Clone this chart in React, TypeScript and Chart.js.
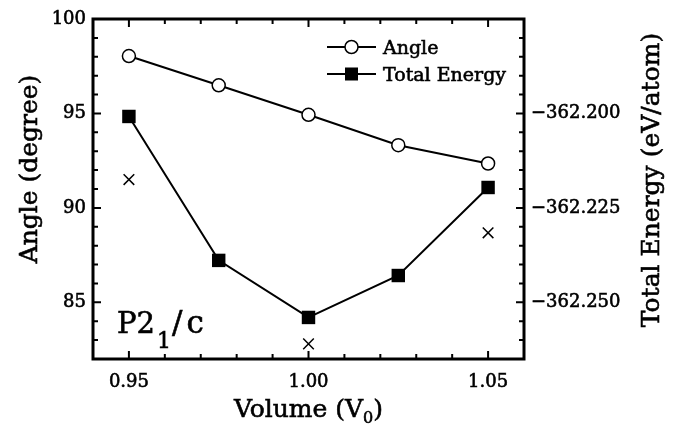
import React, { useEffect, useRef } from 'react';
import { Chart, registerables } from 'chart.js';

Chart.register(...registerables);

// ---- data ----
const volumes = [0.95, 0.975, 1.0, 1.025, 1.05];
const angleValues = [98.04, 96.49, 94.93, 93.32, 92.35];
const energyValues = [-362.2008, -362.2389, -362.254, -362.2429, -362.2196];
const crossVolumes = [0.95, 1.0, 1.05];
const crossEnergies = [-362.2175, -362.261, -362.2316];

const xTickValues = [0.95, 1.0, 1.05];
const angleTickValues = [85, 90, 95, 100];
const energyTickValues = [-362.25, -362.225, -362.2];

const X_MIN = 0.94;
const X_MAX = 1.06;
const ANGLE_MIN = 82;
const ANGLE_MAX = 100;
const E_MIN = -362.265;
const E_MAX = -362.175;

const FONT = "'DejaVu Serif', 'Liberation Serif', serif";
const STROKE = 0.6;

function txt(ctx: CanvasRenderingContext2D, s: string, x: number, y: number) {
  ctx.fillText(s, x, y);
  ctx.lineWidth = STROKE;
  ctx.strokeText(s, x, y);
}

const decorPlugin = {
  id: 'decor',
  afterDraw(chart: any) {
    const ctx = chart.ctx as CanvasRenderingContext2D;
    const { left, right, top, bottom } = chart.chartArea;
    const xs = chart.scales.x;
    const ys = chart.scales.y;
    ctx.save();
    ctx.strokeStyle = '#000';
    ctx.fillStyle = '#000';

    // ticks (inward)
    ctx.lineWidth = 2;
    const xMinor: number[] = [];
    for (let i = 0; i <= Math.round((X_MAX - X_MIN) / 0.01); i++) xMinor.push(+(X_MIN + i * 0.01).toFixed(3));
    xMinor.forEach((v) => {
      const px = xs.getPixelForValue(v);
      const major = xTickValues.some((t) => Math.abs(t - v) < 1e-6);
      const len = major ? 8 : 5;
      ctx.beginPath();
      ctx.moveTo(px, bottom);
      ctx.lineTo(px, bottom - len);
      ctx.moveTo(px, top);
      ctx.lineTo(px, top + len);
      ctx.stroke();
    });
    for (let v = ANGLE_MIN; v <= ANGLE_MAX; v++) {
      const py = ys.getPixelForValue(v);
      const major = v % 5 === 0;
      const len = major ? 8 : 5;
      ctx.beginPath();
      ctx.moveTo(left, py);
      ctx.lineTo(left + len, py);
      ctx.moveTo(right, py);
      ctx.lineTo(right - len, py);
      ctx.stroke();
    }

    // frame
    ctx.lineWidth = 3;
    ctx.strokeRect(left, top, right - left, bottom - top);

    // axis titles
    ctx.textAlign = 'center';
    ctx.textBaseline = 'middle';
    ctx.font = `25px ${FONT}`;
    ctx.save();
    ctx.translate(30, 169);
    ctx.rotate(-Math.PI / 2);
    txt(ctx, 'Angle (degree)', 0, 0);
    ctx.restore();

    ctx.save();
    ctx.translate(652, 180);
    ctx.rotate(-Math.PI / 2);
    txt(ctx, 'Total Energy (eV/atom)', 0, 0);
    ctx.restore();

    // x title with subscript
    {
      const main1 = 'Volume (V';
      const sub = '0';
      const main2 = ')';
      ctx.font = `25px ${FONT}`;
      const w1 = ctx.measureText(main1).width;
      const w3 = ctx.measureText(main2).width;
      ctx.font = `16px ${FONT}`;
      const w2 = ctx.measureText(sub).width;
      const total = w1 + w2 + w3;
      const cx = xs.getPixelForValue(1.0);
      const x0 = cx - total / 2;
      const base = 417;
      ctx.textAlign = 'left';
      ctx.textBaseline = 'alphabetic';
      ctx.font = `25px ${FONT}`;
      txt(ctx, main1, x0, base);
      ctx.font = `16px ${FONT}`;
      txt(ctx, sub, x0 + w1, base + 6);
      ctx.font = `25px ${FONT}`;
      txt(ctx, main2, x0 + w1 + w2, base);
    }

    // P2_1/c label
    {
      const x0 = left + 24;
      const base = bottom - 26;
      ctx.textAlign = 'left';
      ctx.textBaseline = 'alphabetic';
      ctx.font = `29px ${FONT}`;
      txt(ctx, 'P2', x0, base);
      const w1 = ctx.measureText('P2').width;
      ctx.font = `22px ${FONT}`;
      txt(ctx, '1', x0 + w1 + 2, base + 15);
      const w2 = ctx.measureText('1').width;
      ctx.font = `31px ${FONT}`;
      const sx = x0 + w1 + w2 + 3;
      txt(ctx, '/', sx, base);
      const ws = ctx.measureText('/').width;
      txt(ctx, 'c', sx + ws + 4, base);
    }

    // legend
    {
      const lx0 = right - 197;
      const lx1 = right - 148;
      const mx = (lx0 + lx1) / 2;
      const tx = right - 141;
      const r1 = top + 28;
      const r2 = top + 55;
      ctx.lineWidth = 2;
      ctx.beginPath();
      ctx.moveTo(lx0, r1);
      ctx.lineTo(lx1, r1);
      ctx.moveTo(lx0, r2);
      ctx.lineTo(lx1, r2);
      ctx.stroke();
      ctx.beginPath();
      ctx.arc(mx, r1, 6.5, 0, Math.PI * 2);
      ctx.fillStyle = '#fff';
      ctx.fill();
      ctx.lineWidth = 1.5;
      ctx.stroke();
      ctx.fillStyle = '#000';
      ctx.fillRect(mx - 6.5, r2 - 6.5, 13, 13);
      ctx.font = `19px ${FONT}`;
      ctx.textAlign = 'left';
      ctx.textBaseline = 'middle';
      txt(ctx, 'Angle', tx, r1 + 2);
      txt(ctx, 'Total Energy', tx, r2 + 2);
    }
    ctx.restore();
  },
};

export default function App() {
  const canvasRef = useRef<HTMLCanvasElement | null>(null);

  useEffect(() => {
    document.body.style.margin = '0';
    const canvas = canvasRef.current;
    if (!canvas) return;

    const angleData = volumes.map((v, i) => ({ x: v, y: angleValues[i] }));
    const energyData = volumes.map((v, i) => ({ x: v, y: energyValues[i] }));
    const crossData = crossVolumes.map((v, i) => ({ x: v, y: crossEnergies[i] }));

    const tickFont = { family: FONT, size: 18 };

    const chart = new Chart(canvas, {
      type: 'line',
      data: {
        datasets: [
          {
            label: 'Angle',
            data: angleData,
            yAxisID: 'y',
            borderColor: '#000',
            borderWidth: 2,
            pointStyle: 'circle',
            pointRadius: 6.5,
            pointBackgroundColor: '#fff',
            pointBorderColor: '#000',
            pointBorderWidth: 1.5,
            tension: 0,
            fill: false,
          },
          {
            label: 'Total Energy',
            data: energyData,
            yAxisID: 'y1',
            borderColor: '#000',
            borderWidth: 2,
            pointStyle: 'rect',
            pointRadius: 9.5,
            pointBackgroundColor: '#000',
            pointBorderColor: '#000',
            pointBorderWidth: 0,
            tension: 0,
            fill: false,
          },
          {
            label: 'cross',
            data: crossData,
            yAxisID: 'y1',
            showLine: false,
            borderColor: '#000',
            pointStyle: 'crossRot',
            pointRadius: 7.5,
            pointBorderColor: '#000',
            pointBorderWidth: 1.5,
          },
        ],
      },
      options: {
        animation: false,
        responsive: false,
        devicePixelRatio: 1,
        layout: { padding: { top: 19, left: 0, right: 0, bottom: 0 } },
        plugins: {
          legend: { display: false },
          tooltip: { enabled: false },
        },
        scales: {
          x: {
            type: 'linear',
            min: X_MIN,
            max: X_MAX,
            grid: { display: false, drawTicks: false },
            border: { display: false },
            afterBuildTicks: (s: any) => {
              s.ticks = xTickValues.map((v) => ({ value: v }));
            },
            afterFit: (s: any) => {
              s.height = 73;
            },
            ticks: {
              padding: 13,
              color: '#000',
              font: tickFont,
              textStrokeColor: '#000',
              textStrokeWidth: STROKE,
              callback: (v: any) => Number(v).toFixed(2),
            },
          },
          y: {
            type: 'linear',
            position: 'left',
            min: ANGLE_MIN,
            max: ANGLE_MAX,
            grid: { display: false, drawTicks: false },
            border: { display: false },
            afterBuildTicks: (s: any) => {
              s.ticks = angleTickValues.map((v) => ({ value: v }));
            },
            afterFit: (s: any) => {
              s.width = 93;
            },
            ticks: {
              padding: 7,
              color: '#000',
              font: tickFont,
              textStrokeColor: '#000',
              textStrokeWidth: STROKE,
              callback: (v: any) => String(v),
            },
          },
          y1: {
            type: 'linear',
            position: 'right',
            min: E_MIN,
            max: E_MAX,
            grid: { display: false, drawTicks: false },
            border: { display: false },
            afterBuildTicks: (s: any) => {
              s.ticks = energyTickValues.map((v) => ({ value: v }));
            },
            afterFit: (s: any) => {
              s.width = 155;
            },
            ticks: {
              padding: 7,
              color: '#000',
              font: tickFont,
              textStrokeColor: '#000',
              textStrokeWidth: STROKE,
              callback: (v: any) => '\u2212' + Math.abs(Number(v)).toFixed(3),
            },
          },
        },
      },
      plugins: [decorPlugin],
    });

    return () => chart.destroy();
  }, []);

  return (
    <div style={{ width: 679, height: 432 }}>
      <canvas ref={canvasRef} width={679} height={432} style={{ display: 'block' }} />
    </div>
  );
}
